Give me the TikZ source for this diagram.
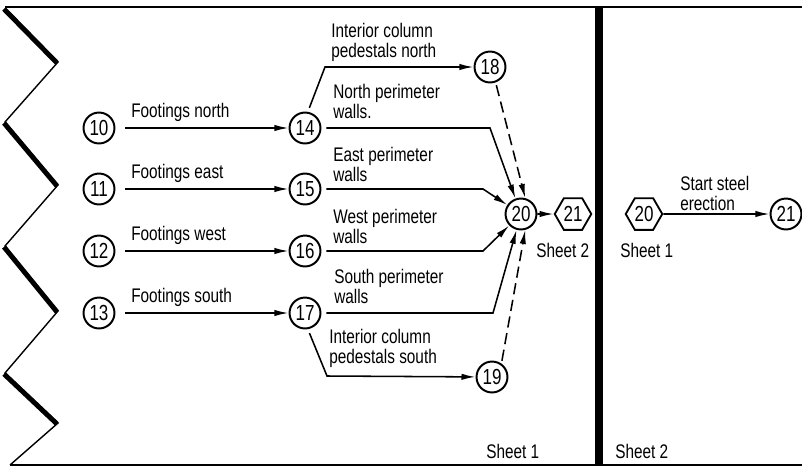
\documentclass[tikz,border=0pt]{standalone}
\usepackage{fontspec}
\setmainfont{Liberation Sans}[FakeStretch=0.78]
\usetikzlibrary{arrows.meta,positioning,calc,shapes.geometric}

\begin{document}
\begin{tikzpicture}[x=0.025cm,y=-0.025cm,>={Latex[length=10pt,width=4.5pt]},
    font=\fontsize{14}{14.2}\selectfont,
    ev/.style={circle,draw,line width=1.4pt,minimum size=22pt,inner sep=0pt,font=\fontsize{15.5}{16}\selectfont},
    hx/.style={regular polygon,regular polygon sides=6,draw,line width=1.3pt,minimum size=26pt,inner sep=0pt,font=\fontsize{15.5}{16}\selectfont},
    act/.style={->,line width=1.1pt},
    dum/.style={act,dash pattern=on 8pt off 4pt},
    lab/.style={anchor=base west,align=left,inner sep=0pt}]
  \useasboundingbox (0,0) rectangle (802,468);
  % sheet frame and break line
  \draw[line width=1.4pt] (5,7) -- (802,7) (10,465) -- (802,465);
  \draw[line width=1pt] (5,8) -- (58,62) -- (5,122) -- (58,185) -- (5,246)
    -- (58,311) -- (5,373) -- (58,423) -- (10,465);
  \foreach \a/\b in {8/62,122/185,246/311,373/423}
    \draw[line width=3.5pt] (4,\a+1) -- (57,\b+1);
  \draw[line width=5.6pt] (599,7) -- (599,465);

  % footings
  \foreach \i/\j/\y/\t in {10/14/128/north,11/15/189/east,12/16/251/west,13/17/313/south}{
    \node[ev] (n\i) at (99,\y) {\i};
    \node[ev] (n\j) at (305,\y) {\j};
    \node[lab] (f\i) at (131,\y-11) {Footings \t};
    \draw[act,shorten <=7pt] (n\i) -- (n\j);
  }

  \node[ev] (n18) at (490,67) {18};
  \node[ev] (n19) at (492,377) {19};
  \node[ev] (n20) at (521,214) {20};
  \node[hx] (h21) at (573,214) {21};
  \node[lab] (s2a) at (536,257) {Sheet 2};

  \node[lab] (t18) at (331,57) {Interior column\\pedestals north};
  \node[lab] (t14) at (333,118) {North perimeter\\walls.};
  \node[lab] (t15) at (333,181) {East perimeter\\walls};
  \node[lab] (t16) at (333,243) {West perimeter\\walls};
  \node[lab] (t17) at (334,303) {South perimeter\\walls};
  \node[lab] (t19) at (329,363) {Interior column\\pedestals south};

  \draw[act,shorten <=3pt] (n14.80) -- (325,67) -- (n18);
  \draw[act,shorten <=3.5pt] (n14) -- (490,128) -- (n20);
  \draw[act,shorten <=3.5pt] (n15) -- (483,189) -- (n20);
  \draw[act,shorten <=3.5pt] (n16) -- (483,251) -- (n20);
  \draw[act,shorten <=3.5pt] (n17) -- (493,313) -- (n20);
  \draw[act,shorten <=3pt] (n17.-80) -- (327,376) -- (n19);
  \draw[dum,shorten <=2pt] (n18.-70) -- (n20.75);
  \draw[dum,shorten <=2pt] (n19.55) -- (n20.-75);
  \draw[act] (n20) -- (h21);

  % sheet 2
  \node[hx] (h20) at (644,214) {20};
  \node[ev] (m21) at (786,214) {21};
  \node[lab] (s1b) at (620,257) {Sheet 1};
  \node[lab] (t21) at (680,210) {Start steel\\erection};
  \draw[act] (h20) -- (m21);

  \node[lab] (s1) at (486,458) {Sheet 1};
  \node[lab] (s2) at (615,458) {Sheet 2};
\end{tikzpicture}
\end{document}
